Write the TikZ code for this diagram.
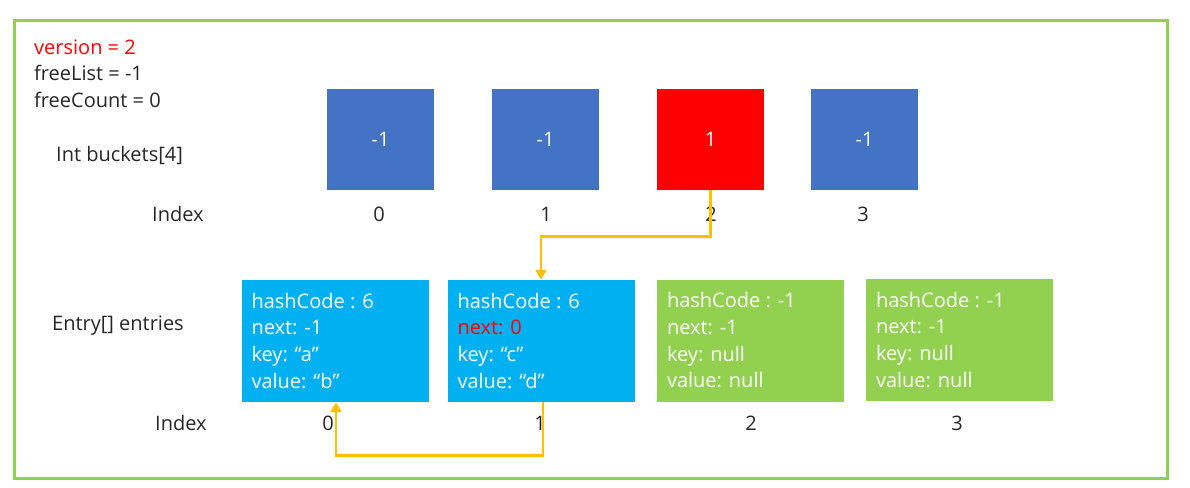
\documentclass[tikz,border=0pt]{standalone}
\usepackage{fontspec}
\setmainfont{Open Sans}
\usetikzlibrary{arrows.meta}
\definecolor{frame}{HTML}{92D050}
\definecolor{bblue}{HTML}{4472C4}
\definecolor{ecyan}{HTML}{00B0F0}
\definecolor{egreen}{HTML}{92D050}
\definecolor{arr}{HTML}{FFC000}
\definecolor{txt}{HTML}{262626}
\tikzset{
  lbl/.style={font=\fontsize{20}{24}\selectfont, text=txt, inner sep=0pt},
  bucket/.style={minimum width=107pt, minimum height=101pt, inner sep=0pt, font=\fontsize{20}{24}\selectfont, text=white},
  entry/.style={minimum width=187pt, minimum height=122pt, inner sep=0pt},
  etext/.style={font=\fontsize{20}{26.7}\selectfont, text=white, align=left, anchor=north west, inner sep=0pt},
  link/.style={draw=arr, line width=2.8pt, -{Triangle[length=10pt,width=11pt]}},
}
\begin{document}
\begin{tikzpicture}[x=1pt,y=-1pt]
\useasboundingbox (0,0) rectangle (1190,487);
\draw[frame, line width=3pt] (14,21) rectangle (1167,478);
\node[lbl, anchor=west, text=red] (ver) at (34,47) {version = 2};
\node[lbl, anchor=west] (fl) at (34,73) {freeList = -1};
\node[lbl, anchor=west] (fc) at (34,100) {freeCount = 0};
\node[lbl, anchor=west] (ib) at (56,155) {Int buckets[4]};
\node[lbl, anchor=west] (ix1) at (152,214) {Index};
\node[bucket, fill=bblue] (b0) at (380.5,139.5) {-1};
\node[bucket, fill=bblue] (b1) at (545.5,139.5) {-1};
\node[bucket, fill=red] (b2) at (710.5,139.5) {1};
\node[bucket, fill=bblue] (b3) at (864.5,139.5) {-1};
\node[lbl] (i0) at (379,214) {0};
\node[lbl] (i1) at (546,214) {1};
\node[lbl] (i2) at (711,214) {2};
\node[lbl] (i3) at (863,214) {3};
\node[lbl, anchor=west] (ee) at (52,326) {Entry[] entries};
\node[lbl, anchor=west] (ix2) at (155,423) {Index};
\node[entry, fill=ecyan] (e0) at (335,341) {};
\node[entry, fill=ecyan] (e1) at (541,341) {};
\node[entry, fill=egreen] (e2) at (750.5,340.5) {};
\node[entry, fill=egreen] (e3) at (959.5,340) {};
\node[etext] (t0) at ([xshift=10pt,yshift=-13pt]e0.north west) {hashCode : 6\\next: -1\\key: “a”\\value: “b”};
\node[etext] (t1) at ([xshift=10pt,yshift=-13pt]e1.north west) {hashCode : 6\\\textcolor{red}{next: 0}\\key: “c”\\value: “d”};
\node[etext] (t2) at ([xshift=10pt,yshift=-13pt]e2.north west) {hashCode : -1\\next: -1\\key: null\\value: null};
\node[etext] (t3) at ([xshift=10pt,yshift=-13pt]e3.north west) {hashCode : -1\\next: -1\\key: null\\value: null};
\node[lbl] (j0) at (328,423) {0};
\node[lbl] (j1) at (540,423) {1};
\node[lbl] (j2) at (751,423) {2};
\node[lbl] (j3) at (957,423) {3};
\draw[link] (b2.south) -- ++(0,46) -| (e1.north);
\draw[link] ([xshift=2pt]e1.south) -- ++(0,53) -| ([xshift=1pt]e0.south);
\end{tikzpicture}
\end{document}
